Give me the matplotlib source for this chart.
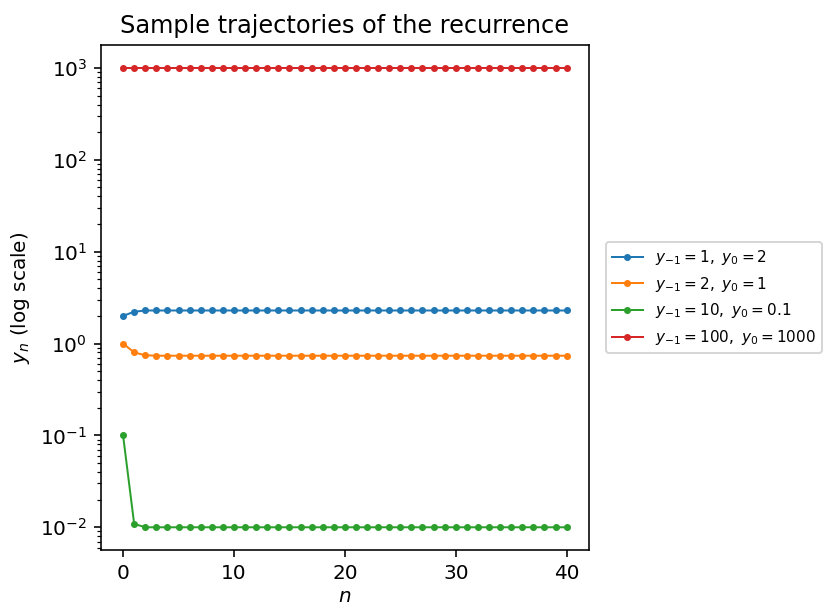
import matplotlib
matplotlib.use('Agg')
import matplotlib.pyplot as plt
import numpy as np

n = np.arange(41)

# values
blue = [2.0, 2.22] + [2.29] * 39
orange = [1.0, 0.80, 0.746] + [0.737] * 38
green = [0.1, 0.0109] + [0.01] * 39
red = [1000.0] * 41

labels = [r'$y_{-1}=1,\ y_0=2$',
          r'$y_{-1}=2,\ y_0=1$',
          r'$y_{-1}=10,\ y_0=0.1$',
          r'$y_{-1}=100,\ y_0=1000$']


def main():
	fig = plt.figure(figsize=(827 / 144, 608 / 144), dpi=144)
	ax = fig.add_axes([0.122, 0.095, 0.590, 0.831])
	for ys, lab in zip([blue, orange, green, red], labels):
		ax.plot(n, ys, marker='o', markersize=2.5, linewidth=1.0, label=lab)
	ax.set_yscale('log')
	ax.set_xticks([0, 10, 20, 30, 40])
	ax.set_xlabel(r'$n$', labelpad=2)
	ax.set_ylabel(r'$y_n$ (log scale)')
	ax.set_title('Sample trajectories of the recurrence')
	ax.legend(loc='center left', bbox_to_anchor=(1.02, 0.5), fontsize=7.6)
	fig.savefig('out.png', dpi=144)


if __name__ == '__main__':
	main()
